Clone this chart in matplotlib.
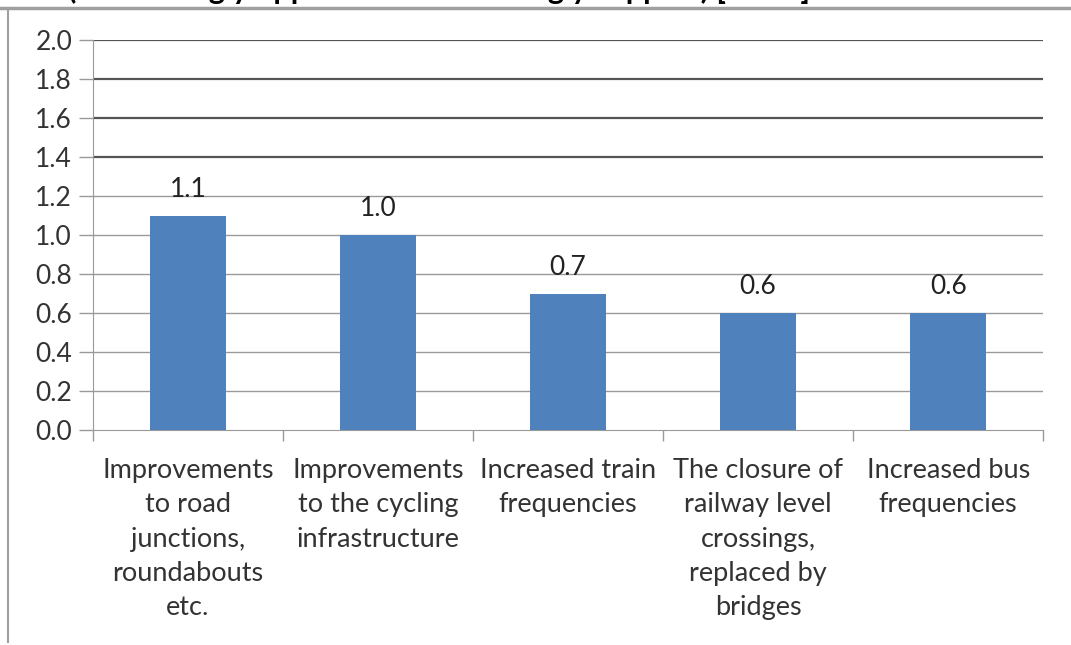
import numpy as np
import matplotlib
matplotlib.use('Agg')
import matplotlib.pyplot as plt
from matplotlib.lines import Line2D

categories = ["Improvements\nto road\njunctions,\nroundabouts\netc.",
              "Improvements\nto the cycling\ninfrastructure",
              "Increased train\nfrequencies",
              "The closure of\nrailway level\ncrossings,\nreplaced by\nbridges",
              "Increased bus\nfrequencies"]
values = [1.1, 1.0, 0.7, 0.6, 0.6]
yticks = [0.0, 0.2, 0.4, 0.6, 0.8, 1.0, 1.2, 1.4, 1.6, 1.8, 2.0]
title = "(-2 = strongly opposed ... +2 = strongly support) [mean]"

plt.rcParams['font.family'] = ['Lato', 'DejaVu Sans']

fig = plt.figure(figsize=(10.71, 6.45), dpi=100)
ax = fig.add_axes([0.0868, 0.3333, 0.8872, 0.6047])

x = np.arange(len(values))
ax.bar(x, values, width=0.4, color='#4F81BD', zorder=3)
for xi, v in zip(x, values):
	ax.annotate(f"{v:.1f}", (xi, v), xytext=(0, 10), textcoords='offset points',
				ha='center', va='bottom', fontsize=19, color='#222222')

ax.set_xlim(-0.5, len(values) - 0.5)
ax.set_ylim(0, 2.0)
ax.set_yticks(yticks)
ax.set_yticklabels([f"{t:.1f}" for t in yticks], fontsize=19, color='#333333')
ax.tick_params(axis='y', length=10, width=1, color='#999999', pad=5)

# gridlines - the upper ones look darker in the reference
for t in yticks[1:]:
	if t > 1.3:
		ax.axhline(t, color='#555555', lw=1.6, zorder=1)
	else:
		ax.axhline(t, color='#9a9a9a', lw=1, zorder=1)

# category labels between boundary ticks
ax.set_xticks(x)
ax.set_xticklabels(categories, fontsize=19.5, color='#333333', linespacing=1.47, va='top')
ax.tick_params(axis='x', length=0, pad=20)
ax.set_xticks(np.arange(-0.5, len(values)), minor=True)
ax.tick_params(axis='x', which='minor', length=8, color='#999999', width=1)

for s in ['top', 'right']:
	ax.spines[s].set_visible(False)
ax.spines['left'].set_color('#999999')
ax.spines['bottom'].set_color('#999999')

# outer frame lines seen at top/left edge
fig.add_artist(Line2D([0, 1], [0.987, 0.987], transform=fig.transFigure, color='#a0a0a0', lw=2.5))
fig.add_artist(Line2D([0.0075, 0.0075], [0.005, 0.987], transform=fig.transFigure, color='#a0a0a0', lw=1.5))

# title mostly clipped above the figure, as in the reference
fig.text(0.41, 1.0 + 1 / 645, title, ha='center', va='baseline', fontsize=22, fontweight='bold', color='black')

fig.savefig('out.png', dpi=100, facecolor='white')
